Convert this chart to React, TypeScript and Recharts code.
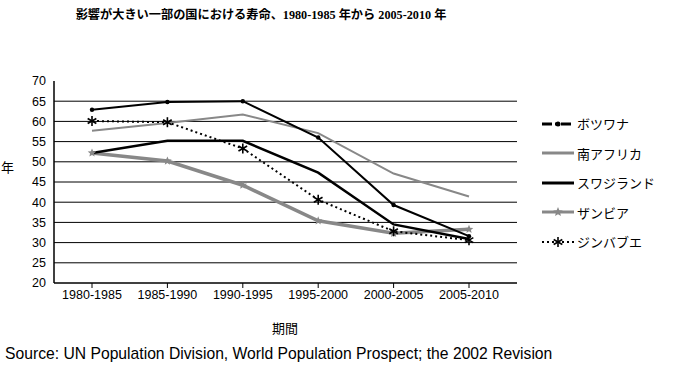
import { LineChart, Line, XAxis, YAxis, ReferenceLine } from 'recharts';

const periods = ['1980-1985', '1985-1990', '1990-1995', '1995-2000', '2000-2005', '2005-2010'];
const botswana = [62.9, 64.8, 65.0, 56.0, 39.3, 31.6];
const southAfrica = [57.7, 59.6, 61.7, 57.1, 47.1, 41.4];
const swaziland = [52.2, 55.2, 55.2, 47.3, 34.5, 30.9];
const zambia = [52.2, 50.2, 44.2, 35.4, 32.3, 33.3];
const zimbabwe = [60.1, 59.8, 53.3, 40.6, 32.8, 30.6];
const yTicks = [20, 25, 30, 35, 40, 45, 50, 55, 60, 65, 70];
const gridValues = [25, 30, 35, 40, 45, 50, 55, 60, 65];

const data = periods.map((p, i) => ({
  period: p,
  botswana: botswana[i],
  southAfrica: southAfrica[i],
  swaziland: swaziland[i],
  zambia: zambia[i],
  zimbabwe: zimbabwe[i],
}));

const star = (cx: number, cy: number, r: number) => {
  const pts: string[] = [];
  for (let k = 0; k < 10; k++) {
    const a = (Math.PI / 5) * k - Math.PI / 2;
    const rr = k % 2 === 0 ? r : r * 0.45;
    pts.push(`${cx + rr * Math.cos(a)},${cy + rr * Math.sin(a)}`);
  }
  return pts.join(' ');
};

const DotMark = (props: any) => <circle key={props.index} cx={props.cx} cy={props.cy} r={2.2} fill="#000" />;
const StarMark = (props: any) => (
  <polygon key={props.index} points={star(props.cx, props.cy, 4.5)} fill="#888" />
);
const AsteriskMark = (props: any) => {
  const { cx, cy, index } = props;
  const r = 5;
  return (
    <g key={index} stroke="#000" strokeWidth={1.6}>
      {[0, 60, 120].map((d) => {
        const a = (d * Math.PI) / 180 + Math.PI / 2;
        return (
          <line key={d} x1={cx - r * Math.cos(a)} y1={cy - r * Math.sin(a)} x2={cx + r * Math.cos(a)} y2={cy + r * Math.sin(a)} />
        );
      })}
    </g>
  );
};

const legendItems = [
  { name: 'ボツワナ', color: '#000', width: 3, dash: '10 3 3 3', marker: 'dot' },
  { name: '南アフリカ', color: '#888', width: 3, dash: undefined, marker: '' },
  { name: 'スワジランド', color: '#000', width: 3, dash: undefined, marker: '' },
  { name: 'ザンビア', color: '#888', width: 3, dash: undefined, marker: 'star' },
  { name: 'ジンバブエ', color: '#000', width: 2, dash: '2 3', marker: 'ast' },
];

const LegendBox = () => (
  <div style={{ position: 'absolute', left: 538, top: 109, fontFamily: '"Noto Sans CJK JP"', fontSize: 13, color: '#000' }}>
    {legendItems.map((it) => (
      <div key={it.name} style={{ display: 'flex', alignItems: 'center', height: 29.5 }}>
        <svg width={38} height={12} style={{ marginRight: 1 }}>
          <line x1={4} y1={6} x2={36} y2={6} stroke={it.color} strokeWidth={it.width} strokeDasharray={it.dash} />
          {it.marker === 'dot' && <circle cx={20} cy={6} r={2.5} fill="#000" />}
          {it.marker === 'star' && <polygon points={star(20, 6, 5)} fill="#888" />}
          {it.marker === 'ast' && <AsteriskMark cx={20} cy={6} index={0} />}
        </svg>
        <span>{it.name}</span>
      </div>
    ))}
  </div>
);

export default function App() {
  return (
    <div style={{ position: 'absolute', left: 0, top: 0, width: 675, height: 370, background: '#fff' }}>
      <div
        style={{
          position: 'absolute',
          top: 5,
          left: 61,
          width: 400,
          textAlign: 'center',
          fontFamily: '"Liberation Serif", "Noto Sans CJK JP"',
          fontWeight: 'bold',
          fontSize: 12.2,
          whiteSpace: 'nowrap',
        }}
      >
        影響が大きい一部の国における寿命、1980-1985 年から 2005-2010 年
      </div>
      <div style={{ position: 'absolute', left: 1, top: 157, fontFamily: '"Noto Sans CJK JP"', fontSize: 13 }}>年</div>
      <div style={{ position: 'absolute', left: 272, top: 318, fontFamily: '"Noto Sans CJK JP"', fontSize: 13 }}>期間</div>
      <div
        style={{
          position: 'absolute',
          left: 5,
          top: 345,
          fontFamily: '"Liberation Sans", Arial, sans-serif',
          fontSize: 15.7,
          whiteSpace: 'nowrap',
        }}
      >
        Source: UN Population Division, World Population Prospect; the 2002 Revision
      </div>
      <LineChart width={675} height={370} data={data} margin={{ top: 81, right: 158, left: 14, bottom: 57 }}>
        {gridValues.map((v) => (
          <ReferenceLine key={v} y={v} stroke="#000" strokeWidth={1} />
        ))}
        <XAxis
          dataKey="period"
          padding={{ left: 38, right: 48 }}
          axisLine={{ stroke: '#000', strokeWidth: 1.5 }}
          tickLine={{ stroke: '#000' }}
          tickSize={5}
          height={30}
          interval={0}
          tick={{ fill: '#000', fontSize: 12.5, fontFamily: '"Liberation Sans", Arial' }}
        />
        <YAxis
          domain={[20, 70]}
          ticks={yTicks}
          interval={0}
          width={40}
          axisLine={{ stroke: '#000', strokeWidth: 1.5 }}
          tickLine={false}
          tick={{ fill: '#000', fontSize: 12.5, fontFamily: '"Liberation Sans", Arial' }}
        />
        <Line dataKey="southAfrica" stroke="#888" strokeWidth={2} dot={false} isAnimationActive={false} />
        <Line dataKey="zambia" stroke="#888" strokeWidth={3.5} dot={StarMark} isAnimationActive={false} />
        <Line dataKey="swaziland" stroke="#000" strokeWidth={2.5} dot={false} isAnimationActive={false} />
        <Line dataKey="botswana" stroke="#000" strokeWidth={2} dot={DotMark} isAnimationActive={false} />
        <Line
          dataKey="zimbabwe"
          stroke="#000"
          strokeWidth={2}
          strokeDasharray="2 3"
          dot={AsteriskMark}
          isAnimationActive={false}
        />
      </LineChart>
      <LegendBox />
    </div>
  );
}
